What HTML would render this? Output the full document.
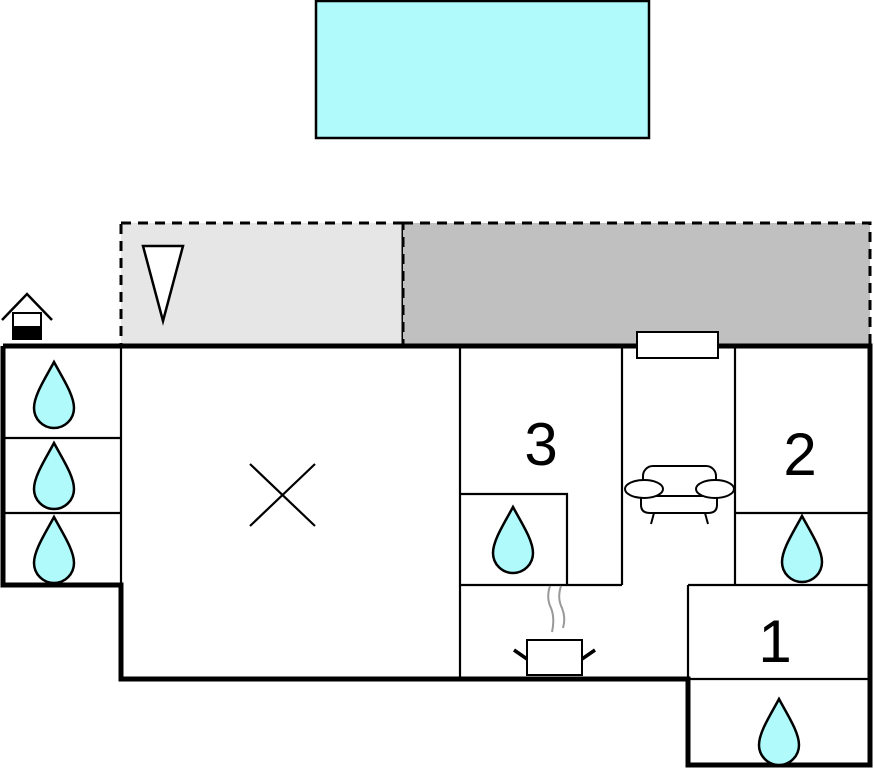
<!DOCTYPE html>
<html><head><meta charset="utf-8"><style>body{margin:0;background:#fff}svg{display:block}</style></head><body>
<svg width="874" height="768" viewBox="0 0 874 768" xmlns="http://www.w3.org/2000/svg">
<defs>
<path id="drop" d="M0,-33 C8,-18 20,0 20,13 A20,20 0 0 1 -20,13 C-20,0 -8,-18 0,-33 Z" fill="#b0fafc" stroke="#000" stroke-width="2.5"/>
</defs>
<rect x="316" y="1" width="333" height="137" fill="#b0fafc" stroke="#000" stroke-width="2.5"/>
<rect x="121" y="223" width="282" height="123" fill="#e6e6e6" stroke="#000" stroke-width="3" stroke-dasharray="10,7"/>
<rect x="403" y="223" width="467" height="123" fill="#c0c0c0" stroke="#000" stroke-width="3" stroke-dasharray="10,7"/>
<polygon points="143,246 183,246 163,321" fill="#fff" stroke="#000" stroke-width="2.5"/>
<polyline points="2,320 27,294 52,320" fill="none" stroke="#000" stroke-width="2.5"/>
<rect x="13" y="313" width="28" height="26" fill="#fff" stroke="#000" stroke-width="2"/>
<rect x="13" y="326" width="28" height="13" fill="#000"/>
<g stroke="#000" stroke-width="2.2" fill="none">
<line x1="121" y1="346" x2="121" y2="585"/>
<line x1="3" y1="438" x2="121" y2="438"/>
<line x1="3" y1="513" x2="121" y2="513"/>
<line x1="460" y1="346" x2="460" y2="679"/>
<line x1="622" y1="346" x2="622" y2="585"/>
<line x1="460" y1="585" x2="622" y2="585"/>
<polyline points="460,494 567,494 567,585"/>
<line x1="735" y1="346" x2="735" y2="585"/>
<line x1="735" y1="513" x2="870" y2="513"/>
<line x1="688" y1="585" x2="688" y2="679"/>
<line x1="688" y1="585" x2="870" y2="585"/>
<line x1="688" y1="679" x2="870" y2="679"/>
<line x1="250" y1="464" x2="315" y2="526"/>
<line x1="315" y1="464" x2="250" y2="526"/>
</g>
<polyline points="3,346 870,346 870,765 688,765 688,679 121,679 121,585 3,585 3,346" fill="none" stroke="#000" stroke-width="5"/>
<rect x="637" y="332" width="81" height="26" fill="#fff" stroke="#000" stroke-width="2"/>
<use href="#drop" x="54" y="395"/>
<use href="#drop" x="54" y="476"/>
<use href="#drop" x="54" y="550"/>
<use href="#drop" x="513" y="540"/>
<use href="#drop" x="802" y="549"/>
<use href="#drop" x="779" y="732"/>
<g font-family="Liberation Sans, sans-serif" font-size="60" text-anchor="middle" fill="#000">
<text x="541" y="465">3</text>
<text x="800" y="475">2</text>
<text x="775" y="662">1</text>
</g>
<g stroke="#000" stroke-width="2" fill="#fff">
<rect x="643" y="466" width="73" height="30" rx="10"/>
<path d="M641,496 L641,505 Q641,513 650,513 L708,513 Q717,513 717,505 L717,496 Z"/>
<ellipse cx="644" cy="489" rx="19" ry="9"/>
<ellipse cx="715" cy="489" rx="19" ry="9"/>
<line x1="654" y1="513" x2="651" y2="524"/>
<line x1="705" y1="513" x2="708" y2="524"/>
<rect x="527" y="640" width="55" height="35"/>
</g>
<g stroke="#000" stroke-width="3.5">
<line x1="514" y1="650" x2="527" y2="659"/>
<line x1="595" y1="650" x2="582" y2="659"/>
</g>
<g stroke="#999" stroke-width="2" fill="none">
<path d="M550,586 Q546,598 551,608 Q555,618 552,632"/>
<path d="M561,586 Q557,598 562,608 Q566,618 563,628"/>
</g>
</svg>
</body></html>
